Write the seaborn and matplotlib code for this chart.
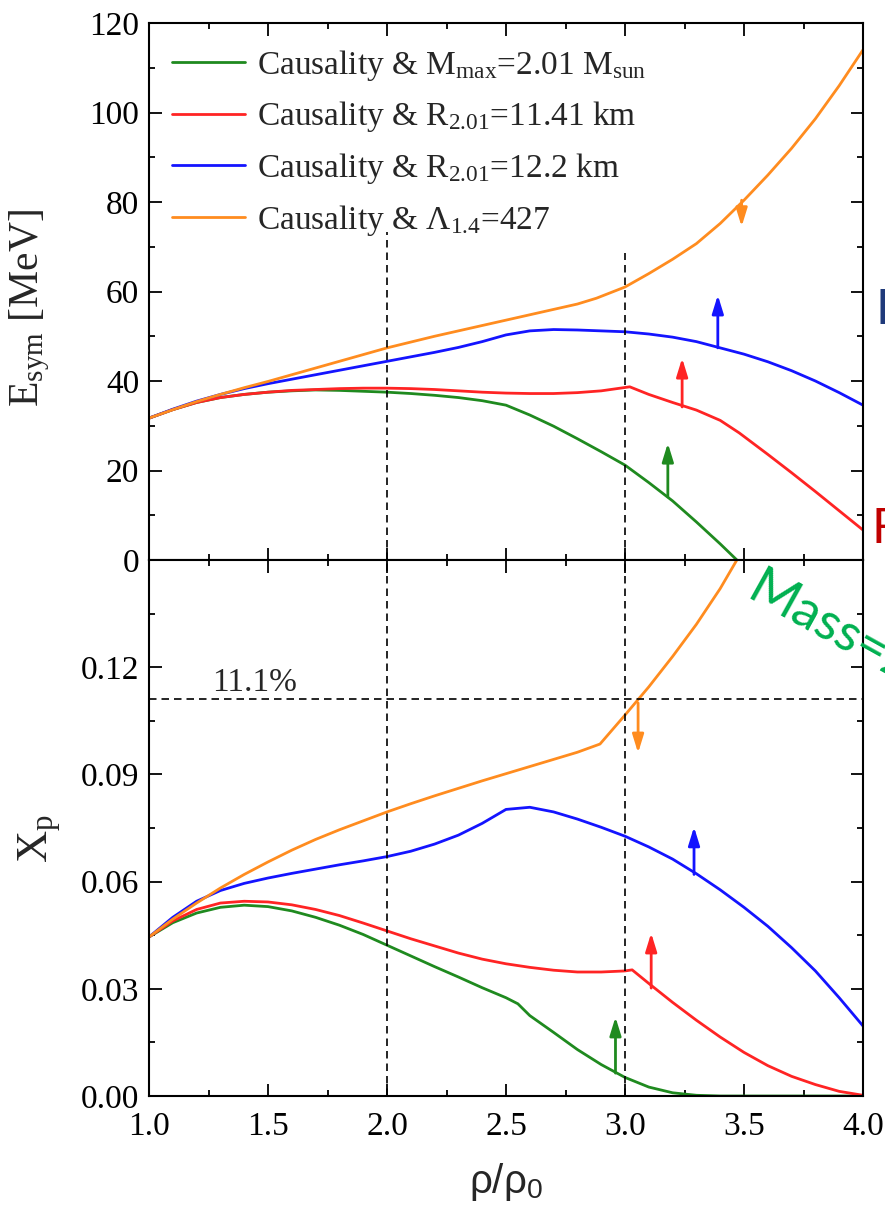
import numpy as np
import pandas as pd
import matplotlib
matplotlib.use("Agg")
import matplotlib.pyplot as plt
import seaborn as sns
from matplotlib.ticker import MultipleLocator, FormatStrFormatter

# ---------------- data ----------------
series_labels = [
    r"Causality & M$_{\rm max}$=2.01 M$_{\rm sun}$",
    r"Causality & R$_{\rm 2.01}$=11.41 km",
    r"Causality & R$_{\rm 2.01}$=12.2 km",
    r"Causality & $\Lambda_{\rm 1.4}$=427",
]
series_colors = ["#1F8A1F", "#FF2424", "#1414FF", "#FF8C1F"]

# upper panel: E_sym [MeV]
x_top_green = [1.0, 1.1, 1.2, 1.3, 1.4, 1.5, 1.6, 1.7, 1.8, 1.9, 2.0, 2.1, 2.2, 2.3, 2.4, 2.5,
               2.6, 2.7, 2.8, 2.9, 3.0, 3.1, 3.2, 3.3, 3.4, 3.47]
esym_green = [31.7, 33.6, 35.2, 36.3, 37.0, 37.5, 37.8, 38.0, 37.9, 37.7, 37.5, 37.2, 36.8, 36.3,
              35.6, 34.6, 32.4, 29.9, 27.1, 24.2, 21.2, 17.3, 13.2, 8.5, 3.6, 0.0]

x_top_red = [1.0, 1.1, 1.2, 1.3, 1.4, 1.5, 1.6, 1.7, 1.8, 1.9, 2.0, 2.1, 2.2, 2.3, 2.4, 2.5, 2.6,
             2.7, 2.8, 2.9, 3.02, 3.1, 3.2, 3.3, 3.4, 3.48, 3.6, 3.7, 3.8, 3.9, 4.0]
esym_red = [31.7, 33.6, 35.2, 36.3, 37.0, 37.5, 37.9, 38.1, 38.3, 38.4, 38.4, 38.3, 38.1, 37.8,
            37.5, 37.3, 37.2, 37.2, 37.4, 37.8, 38.7, 37.0, 35.2, 33.5, 31.2, 28.4, 23.6, 19.5,
            15.3, 11.0, 6.7]

x_top_blue = [1.0, 1.1, 1.2, 1.3, 1.4, 1.5, 1.6, 1.7, 1.8, 1.9, 2.0, 2.1, 2.2, 2.3, 2.4, 2.5, 2.6,
              2.7, 2.8, 2.9, 3.0, 3.1, 3.2, 3.3, 3.4, 3.5, 3.6, 3.7, 3.8, 3.9, 4.0]
esym_blue = [31.7, 33.7, 35.5, 37.0, 38.3, 39.4, 40.4, 41.4, 42.4, 43.4, 44.4, 45.4, 46.4, 47.5,
             48.8, 50.3, 51.2, 51.5, 51.4, 51.2, 51.0, 50.5, 49.8, 48.8, 47.4, 46.0, 44.3, 42.3,
             40.0, 37.4, 34.6]

x_top_orange = [1.0, 1.1, 1.2, 1.3, 1.4, 1.5, 1.6, 1.7, 1.8, 1.9, 2.0, 2.1, 2.2, 2.3, 2.4, 2.5,
                2.6, 2.7, 2.8, 2.88, 3.0, 3.1, 3.2, 3.3, 3.4, 3.5, 3.6, 3.7, 3.8, 3.9, 4.0]
esym_orange = [31.7, 33.6, 35.4, 37.0, 38.5, 39.9, 41.4, 42.9, 44.4, 45.9, 47.4, 48.7, 50.0,
               51.2, 52.4, 53.6, 54.8, 56.0, 57.2, 58.5, 61.0, 64.0, 67.2, 70.7, 75.2, 80.4,
               86.0, 92.0, 98.6, 106.0, 114.0]

# lower panel: proton fraction x_p
x_bot_green = [1.0, 1.1, 1.2, 1.3, 1.4, 1.5, 1.6, 1.7, 1.8, 1.9, 2.0, 2.1, 2.2, 2.3, 2.4, 2.5,
               2.55, 2.6, 2.7, 2.8, 2.9, 3.0, 3.1, 3.2, 3.3, 3.4, 3.6, 3.8, 4.0]
xp_green = [0.0445, 0.0485, 0.0512, 0.0528, 0.0534, 0.0530, 0.0518, 0.0500, 0.0478, 0.0452,
            0.0422, 0.0392, 0.0362, 0.0333, 0.0303, 0.0275, 0.0258, 0.0225, 0.0178, 0.0130,
            0.0088, 0.0052, 0.0025, 0.0009, 0.0002, 0.0, 0.0, 0.0, 0.0]

x_bot_red = [1.0, 1.1, 1.2, 1.3, 1.4, 1.5, 1.6, 1.7, 1.8, 1.9, 2.0, 2.1, 2.2, 2.3, 2.4, 2.5, 2.6,
             2.7, 2.8, 2.9, 3.0, 3.03, 3.1, 3.2, 3.3, 3.4, 3.5, 3.6, 3.7, 3.8, 3.9, 4.0]
xp_red = [0.0445, 0.0490, 0.0522, 0.0540, 0.0545, 0.0543, 0.0535, 0.0522, 0.0505, 0.0484,
          0.0462, 0.0440, 0.0420, 0.0400, 0.0383, 0.0370, 0.0360, 0.0352, 0.0347, 0.0347,
          0.0350, 0.0353, 0.0315, 0.0262, 0.0212, 0.0165, 0.0122, 0.0085, 0.0055, 0.0032,
          0.0013, 0.0002]

x_bot_blue = [1.0, 1.1, 1.2, 1.3, 1.4, 1.5, 1.6, 1.7, 1.8, 1.9, 2.0, 2.1, 2.2, 2.3, 2.4, 2.5, 2.6,
              2.7, 2.8, 2.9, 3.0, 3.1, 3.2, 3.3, 3.4, 3.5, 3.6, 3.7, 3.8, 3.9, 4.0]
xp_blue = [0.0445, 0.0500, 0.0545, 0.0575, 0.0595, 0.0610, 0.0623, 0.0635, 0.0647, 0.0658,
           0.0670, 0.0685, 0.0705, 0.0730, 0.0763, 0.0802, 0.0808, 0.0795, 0.0775, 0.0752,
           0.0727, 0.0697, 0.0663, 0.0622, 0.0577, 0.0528, 0.0475, 0.0415, 0.0350, 0.0275,
           0.0196]

x_bot_orange = [1.0, 1.1, 1.2, 1.3, 1.4, 1.5, 1.6, 1.7, 1.8, 1.9, 2.0, 2.1, 2.2, 2.3, 2.4, 2.5,
                2.6, 2.7, 2.8, 2.895, 3.0, 3.1, 3.2, 3.3, 3.4, 3.47]
xp_orange = [0.0445, 0.0495, 0.0540, 0.0582, 0.0620, 0.0655, 0.0688, 0.0718, 0.0745, 0.0770,
             0.0795, 0.0818, 0.0840, 0.0861, 0.0882, 0.0902, 0.0922, 0.0942, 0.0962, 0.0985,
             0.1066, 0.1145, 0.1230, 0.1320, 0.1420, 0.1500]

# arrows (x, start, end) for each series
arrow_x_top = [3.18, 3.24, 3.39, 3.49]
arrow_from_top = [14.1, 34.2, 47.4, 80.4]
arrow_to_top = [26.1, 45.1, 59.2, 74.5]
arrow_x_bot = [2.96, 3.11, 3.29, 3.055]
arrow_from_bot = [0.0064, 0.0302, 0.0620, 0.1100]
arrow_to_bot = [0.0221, 0.0456, 0.0753, 0.0960]

vline_x = [2.0, 3.0]
vline_top_frac = [0.61, 0.572]
xp_threshold = 0.111
threshold_label = "11.1%"

# ---------------- style ----------------
sns.set_theme(style="ticks")
plt.rcParams["font.family"] = ["Liberation Serif", "DejaVu Serif"]
plt.rcParams["mathtext.fontset"] = "custom"
plt.rcParams["mathtext.rm"] = "Liberation Serif"
plt.rcParams["mathtext.it"] = "Liberation Serif:italic"
plt.rcParams["mathtext.sf"] = "Liberation Sans"
plt.rcParams["axes.linewidth"] = 1.5

palette = dict(zip(series_labels, series_colors))

def long_frame(pairs):
    frames = []
    for (xs, ys), lab in zip(pairs, series_labels):
        frames.append(pd.DataFrame({"x": xs, "y": ys, "series": lab}))
    return pd.concat(frames, ignore_index=True)

top_df = long_frame([(x_top_green, esym_green), (x_top_red, esym_red),
                     (x_top_blue, esym_blue), (x_top_orange, esym_orange)])
bot_df = long_frame([(x_bot_green, xp_green), (x_bot_red, xp_red),
                     (x_bot_blue, xp_blue), (x_bot_orange, xp_orange)])

fig = plt.figure(figsize=(8.85, 12.15), dpi=100)
W, H = 885.0, 1215.0
L, R = 149, 863
ax1 = fig.add_axes([L / W, 1 - 560 / H, (R - L) / W, (560 - 23) / H])
ax2 = fig.add_axes([L / W, 1 - 1096 / H, (R - L) / W, (1096 - 560) / H])

sns.lineplot(data=top_df, x="x", y="y", hue="series", hue_order=series_labels,
             palette=palette, sort=False, estimator=None, lw=2.0, ax=ax1)
sns.lineplot(data=bot_df, x="x", y="y", hue="series", hue_order=series_labels,
             palette=palette, sort=False, estimator=None, lw=2.0, ax=ax2, legend=False)

for ax in (ax1, ax2):
    ax.set_xlim(1.0, 4.0)
    ax.xaxis.set_major_locator(MultipleLocator(0.5))
    ax.xaxis.set_minor_locator(MultipleLocator(0.25))
    ax.xaxis.set_major_formatter(FormatStrFormatter("%.1f"))
    ax.tick_params(which="both", direction="in", top=True, right=True,
                   width=1.3, colors="black", labelsize=24)
    ax.tick_params(axis="y", which="both", pad=7)
    ax.tick_params(axis="x", which="both", pad=11)
    ax.tick_params(which="major", length=9)
    ax.tick_params(which="minor", length=4.5)
    for s in ax.spines.values():
        s.set_color("black")
        s.set_linewidth(1.5)

ax1.set_ylim(0, 120)
ax1.yaxis.set_major_locator(MultipleLocator(20))
ax1.yaxis.set_minor_locator(MultipleLocator(10))
ax1.tick_params(labelbottom=False)
ax1.set_xlabel("")
ax1.set_ylabel(r"E$_{\rm sym}$ [MeV]", fontsize=30)
ax1.yaxis.set_label_coords((52 - L) / (R - L), 0.47)

ax2.set_ylim(0, 0.15)
ax2.set_yticks([0.0, 0.03, 0.06, 0.09, 0.12])
ax2.yaxis.set_minor_locator(MultipleLocator(0.015))
ax2.yaxis.set_major_formatter(FormatStrFormatter("%.2f"))
ax2.set_ylabel(r"X$_{\rm p}$", fontsize=32)
ax2.yaxis.set_label_coords((63 - L) / (R - L), 0.48)
ax2.set_xlabel(r"ρ/ρ$_\mathsf{0}$", fontsize=29, family="Liberation Sans", labelpad=14)

# reference lines
dash = (0, (4.5, 3))
for xv, yf in zip(vline_x, vline_top_frac):
    ax1.axvline(xv, ymin=0, ymax=yf, color="black", lw=1.2, ls=dash)
    ax2.axvline(xv, color="black", lw=1.2, ls=dash)
ax2.axhline(xp_threshold, color="black", lw=1.2, ls=dash)
ax2.text(1.445, xp_threshold + 0.0003, threshold_label, ha="center", va="bottom", fontsize=24)

# arrows
arrow_style = "-|>,head_length=0.55,head_width=0.17"
for xa, y0, y1, c in zip(arrow_x_top, arrow_from_top, arrow_to_top, series_colors):
    ax1.annotate("", xy=(xa, y1), xytext=(xa, y0),
                 arrowprops=dict(arrowstyle=arrow_style, color=c, lw=2,
                                 shrinkA=0, shrinkB=0, mutation_scale=20))
for xa, y0, y1, c in zip(arrow_x_bot, arrow_from_bot, arrow_to_bot, series_colors):
    ax2.annotate("", xy=(xa, y1), xytext=(xa, y0),
                 arrowprops=dict(arrowstyle=arrow_style, color=c, lw=2,
                                 shrinkA=0, shrinkB=0, mutation_scale=20))

# legend
handles, labels = ax1.get_legend_handles_labels()
ax1.legend(handles, labels, loc="upper left", bbox_to_anchor=(0.032, 0.954),
           frameon=False, fontsize=24, handlelength=2.2, handletextpad=0.35,
           labelspacing=0.5, borderaxespad=0, borderpad=0)

# overlaid annotations partly outside the figure
fig.text(876 / W, 1 - 324 / H, "I", color="#1F3A7A", fontsize=35,
         family="Lato", va="baseline", ha="left")
fig.text(871 / W, 1 - 543 / H, "F", color="#C00000", fontsize=35,
         family="Lato", va="baseline", ha="left")
fig.text(744 / W, 1 - 598 / H, "Mass=2.01", color="#00B050", fontsize=38,
         family="Lato", rotation=-29, rotation_mode="anchor", va="baseline", ha="left")

fig.savefig("out.png", dpi=100)
